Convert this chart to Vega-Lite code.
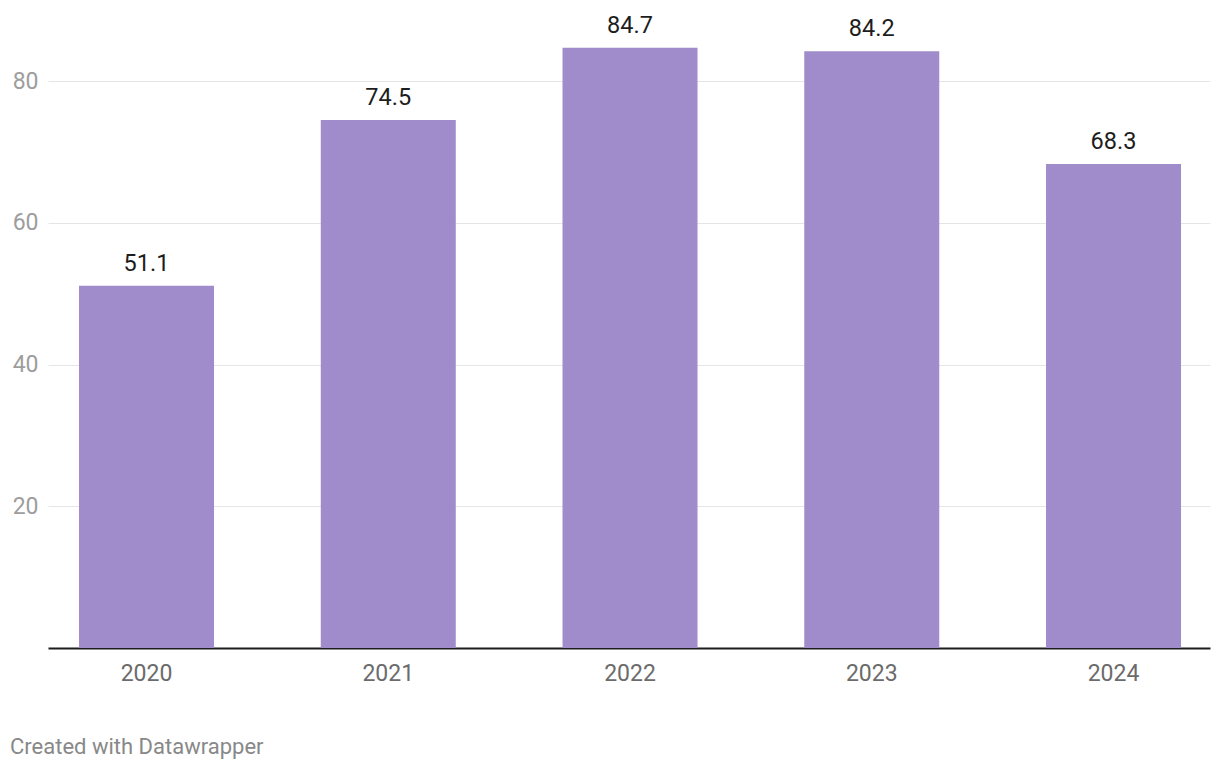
{
  "$schema": "https://vega.github.io/schema/vega-lite/v6.json",
  "width": 1162,
  "height": 567,
  "autosize": {"type": "none"},
  "padding": {"left": 48, "top": 81, "right": 10, "bottom": 122},
  "background": "white",
  "config": {
    "view": {"stroke": null},
    "font": "Roboto"
  },
  "title": {
    "text": "Created with Datawrapper",
    "orient": "bottom",
    "anchor": "start",
    "frame": "group",
    "dx": -38,
    "offset": 52,
    "fontSize": 22,
    "fontWeight": "normal",
    "color": "#888888",
    "font": "Roboto"
  },
  "data": {
    "values": [
      {"year": "2020", "value": 51.1},
      {"year": "2021", "value": 74.5},
      {"year": "2022", "value": 84.7},
      {"year": "2023", "value": 84.2},
      {"year": "2024", "value": 68.3}
    ]
  },
  "encoding": {
    "x": {
      "field": "year",
      "type": "nominal",
      "scale": {"paddingInner": 0.4416, "paddingOuter": 0.1241, "align": 0.517},
      "axis": {
        "title": null,
        "labelAngle": 0,
        "labelFontSize": 23,
        "labelColor": "#6b6b6b",
        "labelPadding": 14,
        "ticks": false,
        "domainColor": "#1d1d1d",
        "domainWidth": 2,
        "grid": false
      }
    },
    "y": {
      "field": "value",
      "type": "quantitative",
      "scale": {"domain": [0, 80], "nice": false},
      "axis": {
        "title": null,
        "values": [20, 40, 60, 80],
        "domain": false,
        "ticks": false,
        "labelFontSize": 23,
        "labelColor": "#9d9d9d",
        "labelPadding": 10,
        "gridColor": "#e5e5e5",
        "gridWidth": 1
      }
    }
  },
  "layer": [
    {
      "mark": {"type": "bar", "color": "#a08bcb", "clip": false}
    },
    {
      "mark": {"type": "text", "fontSize": 23.5, "color": "#1d1d1d", "baseline": "alphabetic", "dy": -15, "font": "Roboto"},
      "encoding": {
        "text": {"field": "value", "type": "quantitative", "format": ".1f"}
      }
    }
  ]
}
